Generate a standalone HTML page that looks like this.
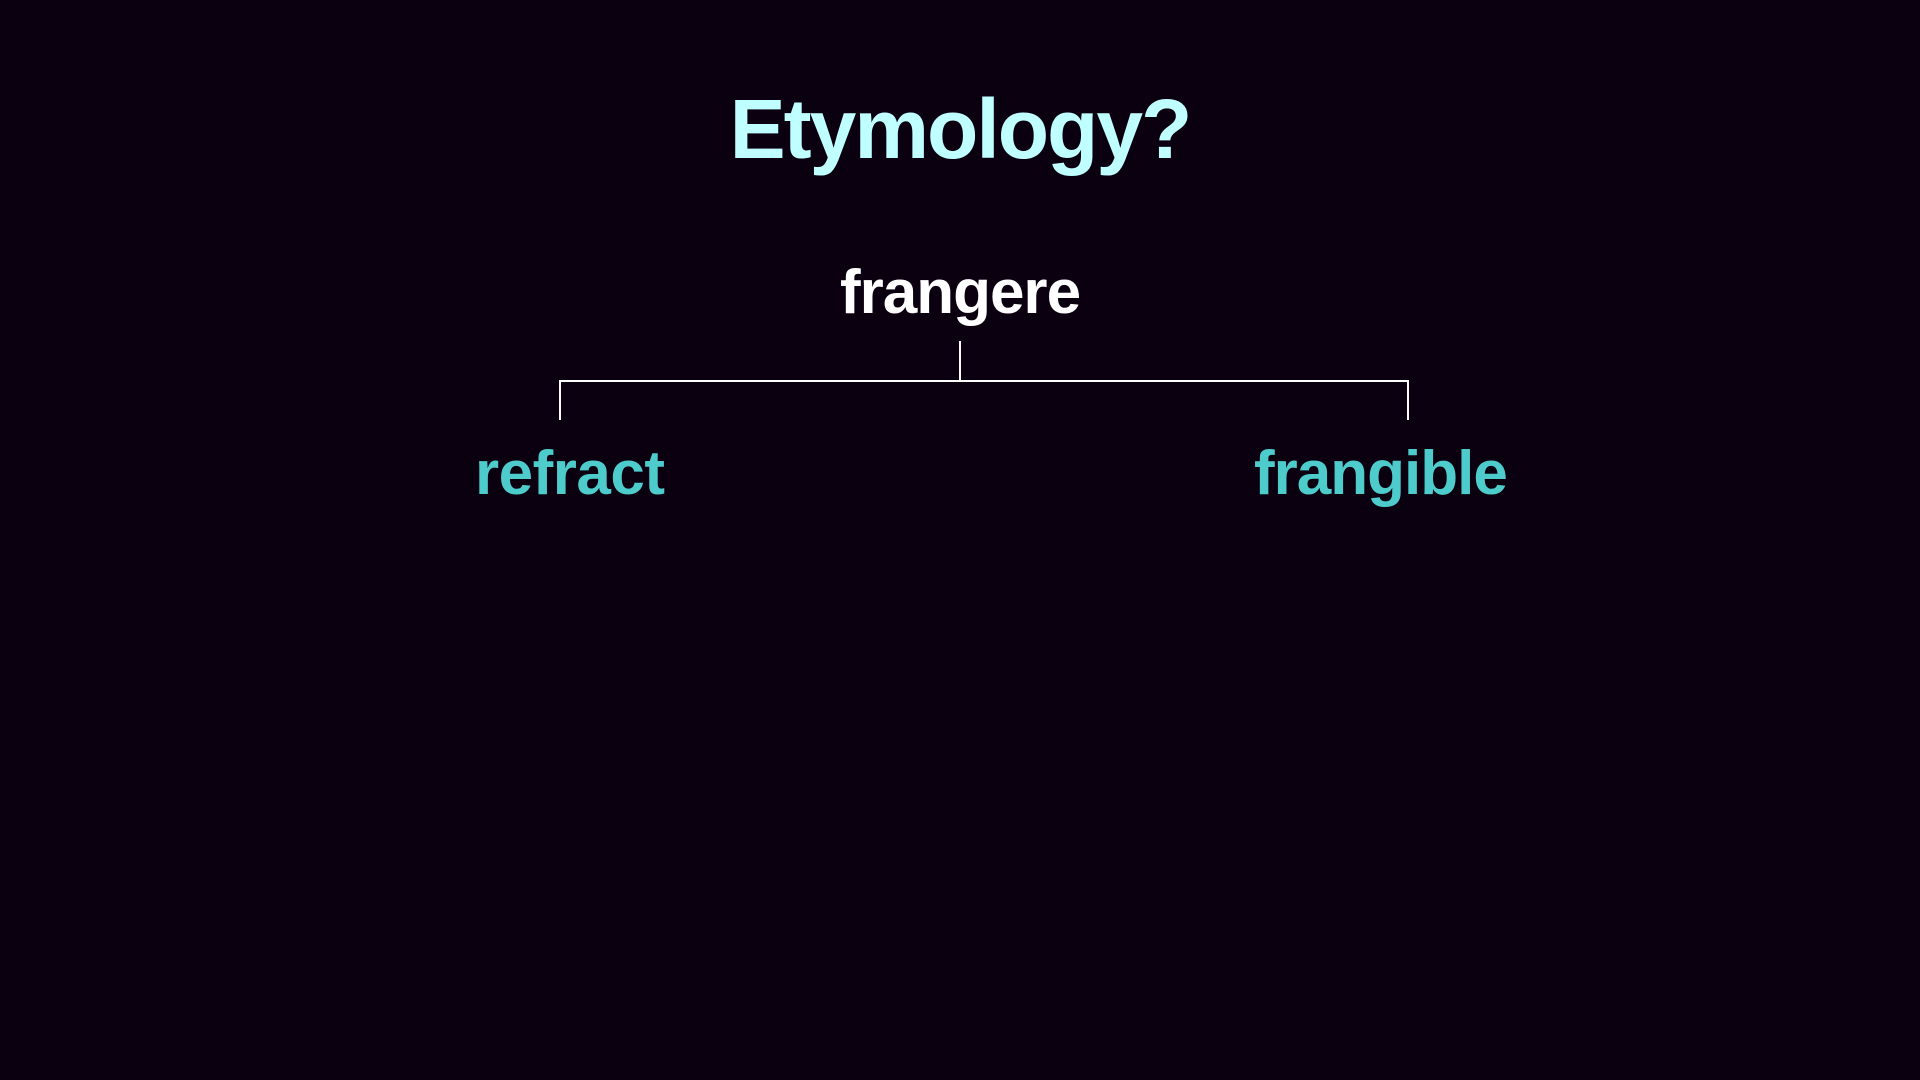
<!DOCTYPE html>
<html><head><meta charset="utf-8"><style>
html,body{margin:0;padding:0;background:#0a0010;}
body{width:1920px;height:1080px;position:relative;overflow:hidden;font-family:"Liberation Sans",Arial,sans-serif;font-weight:bold;}
.t{position:absolute;white-space:nowrap;line-height:1;}
</style></head><body>
<div class="t" style="left:0;width:1920px;text-align:center;top:87px;font-size:84px;color:#c0ffff;letter-spacing:-2px;">Etymology?</div>
<div class="t" style="left:0;width:1920px;text-align:center;top:262px;font-size:62px;color:#ffffff;letter-spacing:-1px;">frangere</div>
<svg style="position:absolute;left:0;top:0" width="1920" height="1080">
<g stroke="#ffffff" stroke-width="2" fill="none">
<line x1="960" y1="341" x2="960" y2="381"/>
<polyline points="560,420 560,381 1408,381 1408,420"/>
</g></svg>
<div class="t" style="left:475px;top:443px;font-size:62px;color:#4ecccc;letter-spacing:-0.5px;">refract</div>
<div class="t" style="left:1254px;top:443px;font-size:62px;color:#4ecccc;letter-spacing:-1px;">frangible</div>
</body></html>
